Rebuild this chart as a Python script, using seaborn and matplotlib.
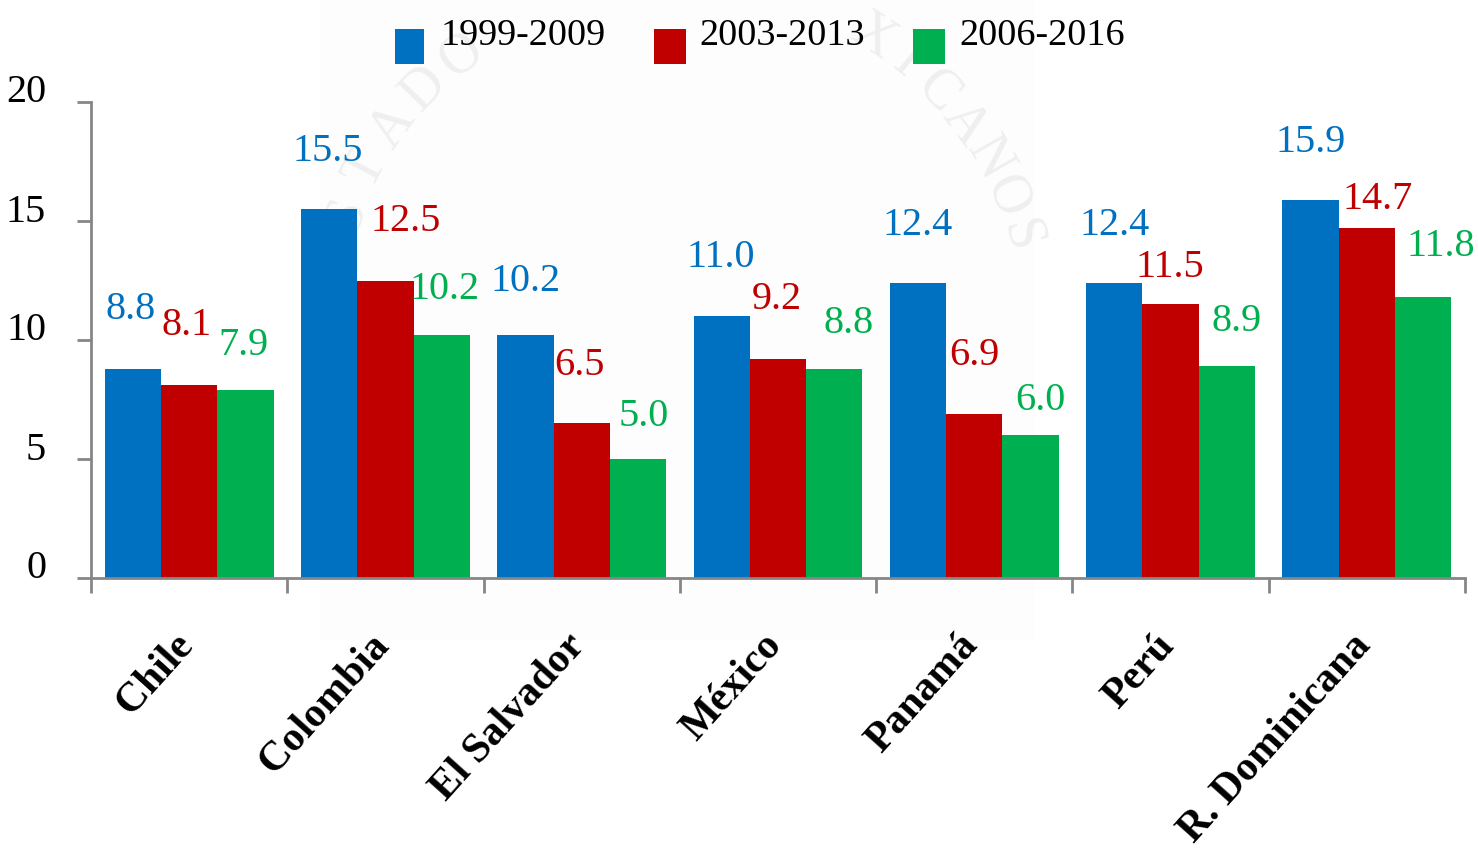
import numpy as np
import pandas as pd
import matplotlib
matplotlib.use('Agg')
import matplotlib.pyplot as plt
import seaborn as sns

# ─── DATA ─────────────────────────────────────────────────────────────────────
countries = ['Chile', 'Colombia', 'El Salvador', 'México', 'Panamá', 'Perú', 'R. Dominicana']
periods = ['1999-2009', '2003-2013', '2006-2016']
v1 = [8.8, 15.5, 10.2, 11.0, 12.4, 12.4, 15.9]
v2 = [8.1, 12.5, 6.5, 9.2, 6.9, 11.5, 14.7]
v3 = [7.9, 10.2, 5.0, 8.8, 6.0, 8.9, 11.8]
yticks = [0, 5, 10, 15, 20]
colors = ['#0070C0', '#C00000', '#00B050']

# label offsets in pixels from the bar centre / bar top, one row per country
lab_dx = [[-2, -3, -2], [-1, 20, 3], [0, -2, 6], [-1, -1, 14], [0, 0, 10], [0, -1, 10], [0, 11, 18]]
lab_dy = [[59, 60, 44], [58, 59, 46], [54, 58, 43], [59, 60, 45], [57, 58, 35], [57, 37, 45], [57, 29, 51]]

df = pd.DataFrame({'country': countries * 3,
                   'period': np.repeat(periods, len(countries)),
                   'value': v1 + v2 + v3})

sns.set_theme(style='white')
plt.rcParams['font.family'] = ['Liberation Serif', 'DejaVu Serif']

W, H = 1478, 852
PT = 0.72   # pixels -> points at dpi 100
fig = plt.figure(figsize=(W / 100, H / 100), dpi=100)

# ─── faint seal behind the chart ──────────────────────────────────────────────
fig.patches.append(plt.Rectangle((320 / W, 1 - 640 / H), 715 / W, 640 / H, transform=fig.transFigure,
                                 facecolor='#FDFDFD', edgecolor='none', zorder=-5))
seal_cx, seal_cy, seal_r = 680, 335, 355
for word, start, step in [('STADO', -70, 8), ('XICANOS', 33, 6.8)]:
    for j, ch in enumerate(word):
        ang = np.radians(start + step * j)
        fig.text((seal_cx + seal_r * np.sin(ang)) / W, 1 - (seal_cy - seal_r * np.cos(ang)) / H, ch,
                 fontsize=40, color='#EFEFEF', rotation=-np.degrees(ang), ha='center', va='center',
                 rotation_mode='anchor', zorder=-4)

ax = fig.add_axes([91 / W, 1 - 578 / H, (1465 - 91) / W, (578 - 102) / H])
ax.patch.set_alpha(0)

sns.barplot(data=df, x='country', y='value', hue='period', palette=colors,
            saturation=1, width=0.86, gap=0, linewidth=0, ax=ax, legend=False)

ax.set_xlim(-0.5, 6.5)
ax.set_ylim(0, 20)
ax.set_yticks(yticks)
ax.set_yticklabels([])
ax.set_xticks(np.arange(-0.5, 7, 1))
ax.set_xticklabels([])
ax.set_xlabel('')
ax.set_ylabel('')
ax.tick_params(axis='y', left=True, length=10, width=2, color='#868686', direction='out')
ax.tick_params(axis='x', bottom=True, length=11, width=2, color='#868686', direction='out')
for s in ['top', 'right']:
    ax.spines[s].set_visible(False)
for s in ['left', 'bottom']:
    ax.spines[s].set_color('#868686')
    ax.spines[s].set_linewidth(2)

# y tick labels sit a little above their ticks
for t in yticks:
    ax.annotate(str(t), (0, t), xycoords=('axes fraction', 'data'), xytext=(-45 * PT, 9 * PT),
                textcoords='offset points', ha='right', va='center', fontsize=29, color='black')

# value labels
series = [v1, v2, v3]
for k, cont in enumerate(ax.containers):
    for i, bar in enumerate(cont):
        x = bar.get_x() + bar.get_width() / 2
        ax.annotate(f'{series[k][i]:.1f}', (x, bar.get_height()),
                    xytext=(lab_dx[i][k] * PT, lab_dy[i][k] * PT),
                    textcoords='offset points', ha='center', va='center',
                    color=colors[k], fontsize=29, annotation_clip=False)

# rotated country names
for i, c in enumerate(countries):
    ax.annotate(c, (i, 0), xytext=(-12, -35), textcoords='offset points', rotation=48,
                ha='right', va='top', rotation_mode='anchor', annotation_clip=False,
                fontsize=30, fontweight='bold', color='black')

# legend
for x0, w, c, t, tx in [(395, 29, colors[0], periods[0], 441), (654, 32, colors[1], periods[1], 699),
                        (913, 32, colors[2], periods[2], 959)]:
    fig.patches.append(plt.Rectangle((x0 / W, 1 - 64 / H), w / W, 35 / H, transform=fig.transFigure,
                                     facecolor=c, edgecolor='none'))
    fig.text(tx / W, 1 - 36 / H, t, fontsize=27.5, color='black', ha='left', va='center')

fig.savefig('out.png', dpi=100)
